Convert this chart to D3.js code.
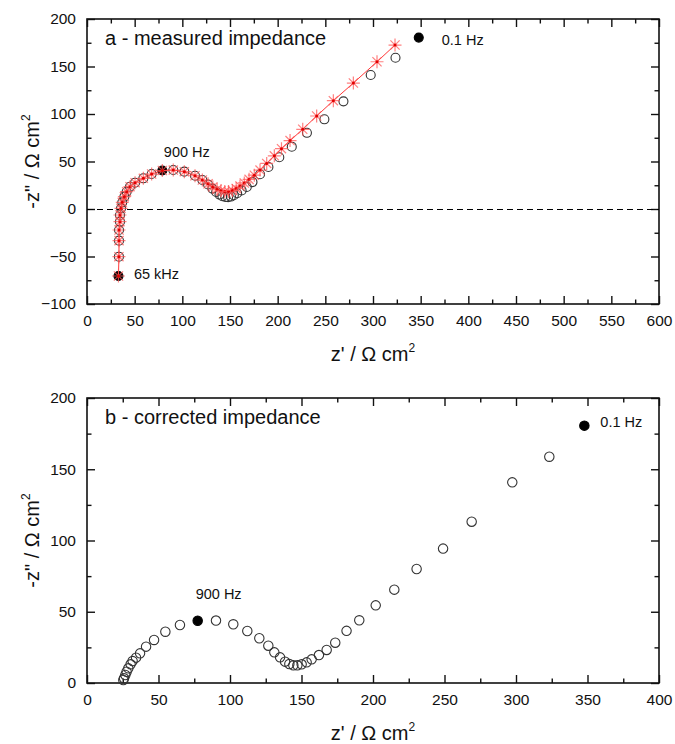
<!DOCTYPE html>
<html>
<head>
<meta charset="utf-8">
<script src="https://cdn.jsdelivr.net/npm/d3@7"></script>
<style>
  body { margin: 0; background: #fff; }
  svg text { font-family: "Liberation Sans", Arial, sans-serif; fill: #111; }
</style>
</head>
<body>
<svg id="chart" width="675" height="744"></svg>
<script>
// panel a: measured impedance, black open circles [z', -z'']
const measured = [
  [33, -70.5], [33.5, -50.2], [33.6, -33.3], [33.6, -22.1], [34.6, -13.3], [34.6, -6.3],
  [35.7, 0.7], [37, 7], [39.2, 13], [41.6, 18.2], [45.1, 23.5], [50.4, 27.7], [59.1, 32.3],
  [67.8, 36.8], [79, 40.5], [90.5, 41], [102.1, 39.3], [113.3, 35], [121, 30.5], [127, 25.8],
  [131.5, 21.5], [135.5, 18], [139, 15.2], [142, 13.4], [145, 12.6], [148, 12.5], [151, 13.1],
  [154, 14.5], [157.5, 16.6], [162.2, 19.6], [167.6, 23.2], [173.6, 28.3], [181.5, 36.6],
  [190.3, 44.2], [201.7, 54.5], [214.8, 65.6], [230.7, 80.2], [249, 94.4], [269, 113.3],
  [297.6, 141], [323.6, 159.2], [348, 180.4],
];
// panel a: red asterisk series
const fitted = [
  [33, -70.5], [33.5, -50.2], [33.6, -33.3], [33.6, -22.1], [34.6, -13.3], [34.6, -6.3],
  [35.7, 0.7], [37, 7], [39.2, 13], [41.6, 18.2], [45.1, 23.5], [50.4, 27.7], [59.1, 32.3],
  [67.8, 36.8], [79, 40.5], [90.5, 41], [102.1, 39.3], [113.3, 35], [121, 30.5], [127, 26.5],
  [132, 23.2], [136.5, 20.8], [140.5, 19.2], [144.5, 18.3], [148.5, 18.5], [152.5, 19.6],
  [156.5, 21.6], [160.5, 24.2], [165, 27.4], [170, 31.2], [175.5, 35.6], [181.5, 41],
  [188.5, 48], [196.5, 56], [204, 63.5], [213, 72], [226.3, 83.9], [240.9, 97.9],
  [258.4, 114], [279.4, 132.6], [304.2, 155], [323.1, 172.6],
];
// panel b: corrected impedance
const corrected = [
  [25.4, 2.1], [25.9, 3.3], [26.8, 5.6], [27.7, 7.9], [28.9, 10.3], [30.5, 13.1], [31.9, 15.4],
  [34.3, 17.8], [37.1, 20.8], [41.3, 25.5], [46.9, 30.2], [54.8, 36], [65, 40.7], [77.4, 43.7],
  [90.2, 43.8], [102.3, 41.2], [112.1, 36.5], [120.5, 31.4], [126.8, 26.2], [131, 21.5],
  [135, 18], [138.5, 15], [141.5, 13.3], [144.3, 12.4], [147.1, 12.4], [150.1, 13.1],
  [153.6, 14.5], [157.1, 16.6], [162.2, 19.6], [167.6, 23.2], [173.6, 28.3], [181.5, 36.6],
  [190.4, 44], [201.9, 54.5], [214.9, 65.5], [230.5, 80], [249, 94.3], [269, 113.2],
  [297.4, 140.8], [323.3, 158.8], [347.8, 180.6],
];

// frequency markers: [series index, label]
const marksA = [[0, "65 kHz"], [14, "900 Hz"], [41, "0.1 Hz"]];
const marksB = [[13, "900 Hz"], [40, "0.1 Hz"]];

const xTicksA = d3.range(0, 601, 50);
const yTicksA = d3.range(-100, 201, 50);
const xTicksB = d3.range(0, 401, 50);
const yTicksB = d3.range(0, 201, 50);

const svg = d3.select("#chart");

function panel({ top, bottom, xDomain, yDomain, xTicks, yTicks, title }) {
  const left = 87, right = 659;
  const x = d3.scaleLinear().domain(xDomain).range([left, right]);
  const y = d3.scaleLinear().domain(yDomain).range([bottom, top]);
  const g = svg.append("g");
  const minor = (t) => d3.range(t[0] + 25, t[t.length - 1], 50);

  const axes = [
    [d3.axisBottom(x), `translate(0,${bottom})`, xTicks, true],
    [d3.axisTop(x), `translate(0,${top})`, xTicks, false],
    [d3.axisLeft(y), `translate(${left},0)`, yTicks, true],
    [d3.axisRight(y), `translate(${right},0)`, yTicks, false],
  ];
  for (const [ax, tr, ticks, labels] of axes) {
    g.append("g").attr("transform", tr)
      .call(ax.tickValues(ticks).tickSize(-8).tickPadding(labels ? 11 : 0)
        .tickFormat(labels ? d3.format("d") : () => ""))
      .call((s) => s.select(".domain").remove())
      .call((s) => s.selectAll("line").attr("stroke", "#111").attr("stroke-width", 1.4))
      .call((s) => s.selectAll("text").attr("font-size", 15.5).attr("fill", "#111"));
    g.append("g").attr("transform", tr)
      .call(ax.tickValues(minor(ticks)).tickSize(-4.5).tickFormat(() => ""))
      .call((s) => s.select(".domain").remove())
      .call((s) => s.selectAll("line").attr("stroke", "#111").attr("stroke-width", 1.4));
  }

  g.append("rect")
    .attr("x", left).attr("y", top)
    .attr("width", right - left).attr("height", bottom - top)
    .attr("fill", "none").attr("stroke", "#111").attr("stroke-width", 1.6);

  g.append("text").attr("x", left + 18).attr("y", top + 26)
    .attr("font-size", 20).text(title);

  // axis titles
  const yt = g.append("text")
    .attr("transform", `translate(39,${(top + bottom) / 2}) rotate(-90)`)
    .attr("text-anchor", "middle").attr("font-size", 20);
  yt.append("tspan").text('-z" / \u03A9 cm');
  yt.append("tspan").attr("dy", -9).attr("font-size", 12).text("2");

  const xt = g.append("text")
    .attr("x", (left + right) / 2).attr("y", bottom + 57)
    .attr("text-anchor", "middle").attr("font-size", 20);
  xt.append("tspan").text("z' / \u03A9 cm");
  xt.append("tspan").attr("dy", -9).attr("font-size", 12).text("2");

  return { g, x, y };
}

function asterisk(r) {
  const p = d3.path();
  for (let k = 0; k < 4; k++) {
    const a = (k * Math.PI) / 4;
    p.moveTo(-r * Math.cos(a), -r * Math.sin(a));
    p.lineTo(r * Math.cos(a), r * Math.sin(a));
  }
  return p.toString();
}

function circles(g, x, y, data, filled, r) {
  g.append("g").selectAll("circle")
    .data(data)
    .join("circle")
    .attr("cx", (d) => x(d[0]))
    .attr("cy", (d) => y(d[1]))
    .attr("r", r)
    .attr("fill", (d, i) => (filled.includes(i) ? "#000" : "none"))
    .attr("stroke", (d, i) => (filled.includes(i) ? "#000" : "#333"))
    .attr("stroke-width", 1.1);
}

// ---- panel a ----
const a = panel({
  top: 19, bottom: 304, xDomain: [0, 600], yDomain: [-100, 200],
  xTicks: xTicksA, yTicks: yTicksA, title: "a - measured impedance",
});

a.g.append("line")
  .attr("x1", a.x(0)).attr("x2", a.x(600))
  .attr("y1", Math.round(a.y(0)) + 0.5).attr("y2", Math.round(a.y(0)) + 0.5)
  .attr("stroke", "#000").attr("stroke-width", 1.2).attr("stroke-dasharray", "6,4");

circles(a.g, a.x, a.y, measured, marksA.map((m) => m[0]), 4.5);

a.g.append("path")
  .datum(fitted)
  .attr("d", d3.line().x((d) => a.x(d[0])).y((d) => a.y(d[1])))
  .attr("fill", "none").attr("stroke", "#ff2020").attr("stroke-width", 0.9);

const stars = a.g.append("g").selectAll("g")
  .data(fitted)
  .join("g")
  .attr("transform", (d) => `translate(${a.x(d[0])},${a.y(d[1])})`);
stars.append("path").attr("d", asterisk(6.5))
  .attr("stroke", "#ff5555").attr("stroke-opacity", 0.75).attr("stroke-width", 1.2).attr("fill", "none");
stars.append("circle").attr("r", 1.5).attr("fill", "#e00000");

const offA = { "65 kHz": [15.5, 3], "900 Hz": [1.5, -13.5], "0.1 Hz": [23, 7.5] };
a.g.selectAll(".mark")
  .data(marksA)
  .join("text")
  .attr("x", (d) => a.x(measured[d[0]][0]) + offA[d[1]][0])
  .attr("y", (d) => a.y(measured[d[0]][1]) + offA[d[1]][1])
  .attr("font-size", 14.5)
  .text((d) => d[1]);

// ---- panel b ----
const b = panel({
  top: 398, bottom: 683, xDomain: [0, 400], yDomain: [0, 200],
  xTicks: xTicksB, yTicks: yTicksB, title: "b - corrected impedance",
});

circles(b.g, b.x, b.y, corrected, marksB.map((m) => m[0]), 4.7);

const offB = { "900 Hz": [-2, -22], "0.1 Hz": [16, 1] };
b.g.selectAll(".mark")
  .data(marksB)
  .join("text")
  .attr("x", (d) => b.x(corrected[d[0]][0]) + offB[d[1]][0])
  .attr("y", (d) => b.y(corrected[d[0]][1]) + offB[d[1]][1])
  .attr("font-size", 14.5)
  .text((d) => d[1]);
</script>
</body>
</html>
